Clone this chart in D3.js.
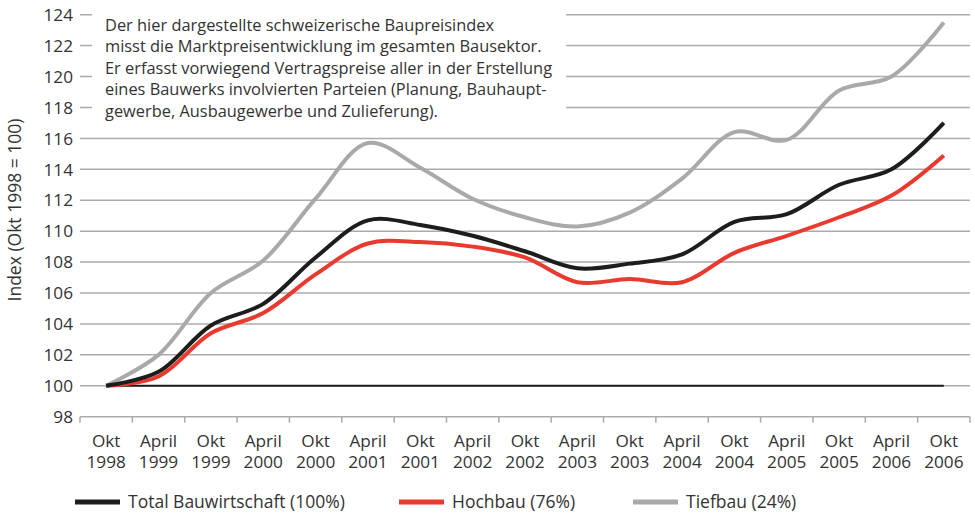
<!DOCTYPE html>
<html><head><meta charset="utf-8">
<script src="https://cdn.jsdelivr.net/npm/d3@7"></script>
<style>
html,body{margin:0;padding:0;background:#fff;}
text{font-family:"Open Sans",sans-serif;fill:#333;}
</style></head>
<body><svg id="c" width="975" height="514"></svg>
<script>
const categories = ["Okt 1998","April 1999","Okt 1999","April 2000","Okt 2000","April 2001","Okt 2001","April 2002","Okt 2002","April 2003","Okt 2003","April 2004","Okt 2004","April 2005","Okt 2005","April 2006","Okt 2006"];
const totalBau = [100, 100.9, 103.9, 105.3, 108.3, 110.7, 110.4, 109.7, 108.7, 107.6, 107.9, 108.5, 110.6, 111.1, 113.0, 114.0, 117.0];
const hochbau  = [100, 100.6, 103.4, 104.7, 107.2, 109.2, 109.3, 109.0, 108.3, 106.7, 106.9, 106.7, 108.6, 109.7, 110.9, 112.3, 114.9];
const tiefbau  = [100, 102.0, 106.0, 108.1, 112.1, 115.7, 114.1, 112.1, 110.9, 110.3, 111.2, 113.4, 116.4, 115.9, 119.1, 120.0, 123.5];
const baseline = categories.map(() => 100);
const yTicks = [98,100,102,104,106,108,110,112,114,116,118,120,122,124];
const seriesNames = ["Total Bauwirtschaft (100%)","Hochbau (76%)","Tiefbau (24%)"];
const noteLines = ["Der hier dargestellte schweizerische Baupreisindex","misst die Marktpreisentwicklung im gesamten Bausektor.","Er erfasst vorwiegend Vertragspreise aller in der Erstellung","eines Bauwerks involvierten Parteien (Planung, Bauhaupt-","gewerbe, Ausbaugewerbe und Zulieferung)."];
const yTitle = "Index (Okt 1998 = 100)";

const colors = {total:"#1d1d1b", hoch:"#e83a2f", tief:"#a8a9ab", grid:"#ababab"};
const svg = d3.select("#c");
const L = 80, R = 970, T = 14.7, B = 416.7;
const x = d3.scaleBand().domain(categories).range([L, R]);
const y = d3.scaleLinear().domain([98,124]).range([B, T]);

// gridlines
svg.append("g").selectAll("line").data(yTicks).join("line")
  .attr("x1", L).attr("x2", R).attr("y1", d=>y(d)).attr("y2", d=>y(d))
  .attr("stroke", colors.grid).attr("stroke-width", 1.5);

// x ticks
svg.append("g").selectAll("line").data(categories.concat(["__end"])).join("line")
  .attr("x1", (d,i)=> L + i*x.bandwidth()).attr("x2", (d,i)=> L + i*x.bandwidth())
  .attr("y1", B).attr("y2", B+6).attr("stroke", colors.grid).attr("stroke-width", 1.5);

// y labels
svg.append("g").selectAll("text").data(yTicks).join("text")
  .attr("x", 73).attr("y", d=>y(d)).attr("dy","0.36em").attr("text-anchor","end")
  .attr("font-size", 17.2).text(d=>d);

// x labels
const xl = svg.append("g").selectAll("text").data(categories).join("text")
  .attr("text-anchor","middle").attr("font-size",17.2)
  .attr("transform", d=>`translate(${x(d)+x.bandwidth()/2},0)`);
xl.append("tspan").attr("x",0).attr("y",446.5).text(d=>d.split(" ")[0]);
xl.append("tspan").attr("x",0).attr("y",467.5).text(d=>d.split(" ")[1]);

// y title
svg.append("text").attr("transform","translate(21,210) rotate(-90)")
  .attr("text-anchor","middle").attr("font-size",17.5).text(yTitle);

// note box
svg.append("rect").attr("x",92).attr("y",0).attr("width",474).attr("height",126).attr("fill","#fff");
svg.append("g").selectAll("text").data(noteLines).join("text")
  .attr("x",105).attr("y",(d,i)=>30.5 + i*21.6).attr("font-size",16.4).text(d=>d);

// lines
const cx = d => x(d) + x.bandwidth()/2;
const line = d3.line().x((v,i)=>cx(categories[i])).y(v=>y(v)).curve(d3.curveCatmullRom.alpha(0.5));
svg.append("path").attr("d", d3.line().x((v,i)=>cx(categories[i])).y(v=>y(v))(baseline))
  .attr("fill","none").attr("stroke",colors.total).attr("stroke-width",2);
[[tiefbau,colors.tief],[hochbau,colors.hoch],[totalBau,colors.total]].forEach(([data,c])=>{
  svg.append("path").attr("d", line(data)).attr("fill","none").attr("stroke",c)
    .attr("stroke-width",4).attr("stroke-linejoin","round");
});

// legend
const legX = [75, 399, 633];
const legC = [colors.total, colors.hoch, colors.tief];
const lg = svg.append("g").selectAll("g").data(seriesNames).join("g")
  .attr("transform",(d,i)=>`translate(${legX[i]},502)`);
lg.append("line").attr("x1",0).attr("x2",45).attr("y1",0).attr("y2",0)
  .attr("stroke",(d,i)=>legC[i]).attr("stroke-width",5);
lg.append("text").attr("x",53).attr("dy","0.36em").attr("font-size",17.5).text(d=>d);
</script></body></html>
